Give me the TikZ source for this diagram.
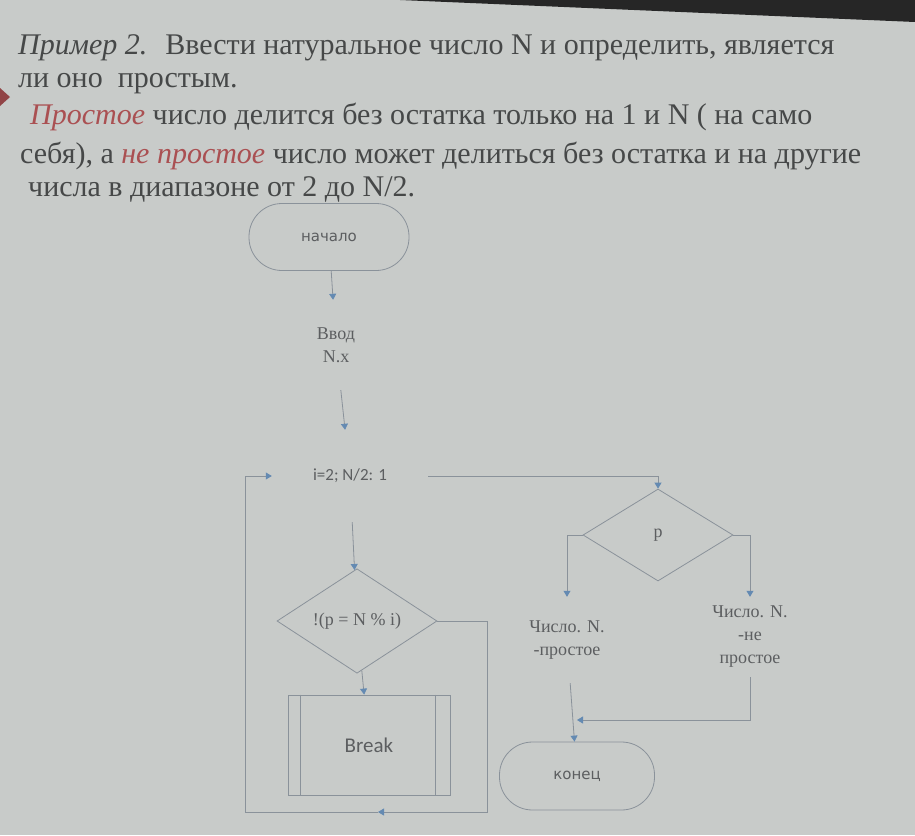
\documentclass[tikz,border=0pt]{standalone}
\usepackage{fontspec}
\setmainfont{Liberation Serif}
\newfontfamily\roundfont{DejaVu Sans}
\newfontfamily\calfont{Carlito}
\usetikzlibrary{positioning, arrows.meta, shapes.geometric}
\definecolor{slide}{RGB}{200,203,201}
\definecolor{ink}{RGB}{70,72,72}
\definecolor{accent}{RGB}{170,80,82}
\definecolor{wire}{RGB}{138,146,154}
\definecolor{tip}{RGB}{100,138,178}
\definecolor{boxtext}{RGB}{92,94,96}

\begin{document}
\begin{tikzpicture}[
  x=1pt, y=-1pt,
  line/.style={draw=wire, line width=0.8pt},
  flow/.style={line, -{Triangle[length=6pt, width=7pt, color=tip]}},
  title/.style={anchor=base west, inner sep=0pt, text=ink, font=\fontsize{30}{35}\selectfont},
  term/.style={draw=wire, line width=0.8pt, rounded corners=33pt, minimum width=160pt, minimum height=67pt, text=boxtext, font=\roundfont\fontsize{15}{18}\selectfont},
  plain/.style={align=center, text=boxtext, minimum width=90pt, font=\fontsize{18}{23}\selectfont},
  decision/.style={diamond, draw=wire, line width=0.8pt, inner sep=0pt, minimum width=160pt, minimum height=98pt, text=boxtext, font=\fontsize{18}{22}\selectfont},
  proc/.style={draw=wire, line width=0.8pt, minimum width=162pt, minimum height=100pt, text=boxtext, font=\calfont\fontsize{21}{25}\selectfont}
]
  \fill[slide] (0,0) rectangle (915,835);
  \fill[black!85] (400,0) -- (915,0) -- (915,22) -- cycle;
  \fill[accent!85!black] (0,88) -- (10,97) -- (0,106) -- cycle;

  \node[title] (task) at (18,54) {\textit{Пример 2.}\hspace{0.6em}Ввести натуральное число N и определить, является};
  \node[title] (task2) at (18,87) {ли оно\ \ простым.};
  \node[title] (rule1) at (30,124) {{\color{accent}\itshape Простое} число делится без остатка только на 1 и N ( на само};
  \node[title] (rule2) at (20,163) {себя), а {\color{accent}\itshape не простое} число может делиться без остатка и на другие};
  \node[title] (rule3) at (28,196) {числа в диапазоне от 2 до N/2.};

  \node[term] (start) at (329,237) {начало};
  \node[plain, minimum height=90pt] (input) at (336,345) {Ввод\\N.x};
  \node[plain, minimum width=156pt, minimum height=92pt, font=\calfont\fontsize{17}{20}\selectfont] (loop) at (350,476) {i=2; N/2: 1};
  \node[decision] (cond) at (357,621) {!(p = N \% i)};
  \node[proc] (brk) at (369,745) {Break};
  \draw[line] ([xshift=13pt]brk.north west) -- ([xshift=13pt]brk.south west);
  \draw[line] ([xshift=-15pt]brk.north east) -- ([xshift=-15pt]brk.south east);
  \node[decision, minimum width=150pt, minimum height=92pt] (test) at (658,535) {p};
  \node[plain, minimum height=86pt] (prime) at (567,640) {Число. N.\\-простое};
  \node[plain, minimum height=80pt] (notprime) at (750,637) {Число. N.\\-не\\простое};
  \node[term, minimum width=155pt, minimum height=68pt] (end) at (577,776) {конец};

  \coordinate (join) at (577,720);
  \coordinate (back1) at (487,812);
  \coordinate (backmid) at (378,812);
  \coordinate (back2) at (245,812);

  \draw[flow] (start) -- (input);
  \draw[flow] (input) -- (loop);
  \draw[flow] (loop) -- (cond);
  \draw[flow] (cond) -- (brk);
  \draw[flow] (loop.east) -| (test.north);
  \draw[flow] (test.west) -| (prime.north);
  \draw[flow] (test.east) -| (notprime.north);
  \draw[flow] (notprime.south) |- (join);
  \draw[flow] (prime) -- (end);
  \draw[flow] (cond.east) -| (back1) -- (backmid);
  \draw[flow] (backmid) -- (back2) |- (loop.west);
\end{tikzpicture}
\end{document}
